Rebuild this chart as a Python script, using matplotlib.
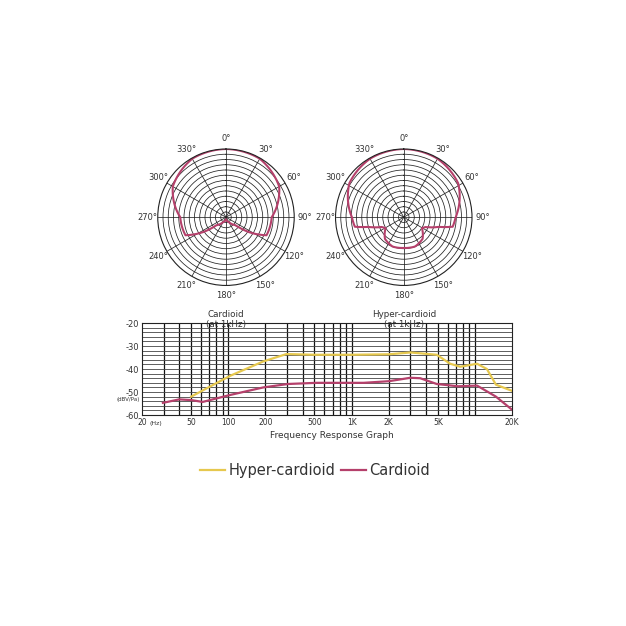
import numpy as np
import matplotlib
matplotlib.use("Agg")
import matplotlib.pyplot as plt

PINK = "#B5406B"
YELLOW = "#E6C84E"

card_ang = [0, 30, 60, 90, 114, 123, 130, 150, 180]
card_r = [1.0, 0.99, 0.9, 0.67, 0.65, 0.40, 0.18, 0.08, 0.03]
hyp_ang = [0, 30, 58, 90, 101, 105.5, 114, 121, 139, 159, 180]
hyp_r = [1.0, 0.99, 0.94, 0.76, 0.73, 0.53, 0.35, 0.31, 0.42, 0.46, 0.45]

freq_y = [50, 103, 192, 296, 500, 1000, 2000, 3000, 4900, 6300, 7600, 10400, 12500, 14800, 20000]
db_y = [-52, -43, -36.7, -33.5, -33.8, -33.8, -33.6, -32.8, -33.8, -37.7, -39, -37.7, -40, -46.8, -49.5]
freq_p = [29.5, 40, 50, 62, 103, 192, 305, 520, 1250, 2000, 3000, 3600, 4900, 7300, 10400, 14800, 20000]
db_p = [-54.7, -53.2, -53.5, -54.3, -51.3, -48, -46.5, -46, -46, -45.3, -43.8, -44, -46.5, -47.5, -47.2, -52, -57.7]

ang_labels = [0, 30, 60, 90, 120, 150, 180, 210, 240, 270, 300, 330]

fig = plt.figure(figsize=(6.26, 6.26), dpi=100)

def mirror(a, r):
    a = np.array(a, float); r = np.array(r, float)
    aa = np.concatenate([a, 360 - a[::-1][1:]])
    rr = np.concatenate([r, r[::-1][1:]])
    return np.deg2rad(aa), rr

def polar(cx, title, ang, rad):
    R = 0.109
    ax = fig.add_axes([cx - R, 0.653 - R, 2 * R, 2 * R], projection="polar")
    ax.set_theta_zero_location("N")
    ax.set_theta_direction(-1)
    ax.set_ylim(0, 1.0)
    ax.set_yticks(np.linspace(0.077, 1.0, 13)[:-1])
    ax.set_yticklabels([])
    ax.set_xticks(np.deg2rad(ang_labels))
    ax.set_xticklabels([f"{a}°" for a in ang_labels], fontsize=6, color="#333")
    ax.tick_params(pad=-3)
    ax.grid(True, color="#222", lw=0.55)
    ax.spines["polar"].set_color("#222")
    t, r = mirror(ang, rad)
    ln, = ax.plot(t, r, color=PINK, lw=1.5)
    ln.get_path()._interpolation_steps = 40
    fig.text(cx, 0.505, title, ha="center", va="top", fontsize=6.3, color="#333", linespacing=1.2)

polar(0.361, "Cardioid\n(at 1kHz)", card_ang, card_r)
polar(0.645, "Hyper-cardioid\n(at 1kHz)", hyp_ang, hyp_r)

ax = fig.add_axes([0.227, 0.337, 0.591, 0.147])
ax.set_xscale("log")
ax.set_xlim(20, 20000)
ax.set_ylim(-60, -20)
vlines = [30, 40, 50, 60, 70, 80, 90] + [k * 10 ** e for e in (2, 3) for k in range(1, 10)] + [10000]
for v in vlines:
    ax.axvline(v, color="#111", lw=0.9)
for h in range(-58, -20, 2):
    ax.axhline(h, color="#444", lw=0.6)
ax.plot(freq_y, db_y, color=YELLOW, lw=1.6)
ax.plot(freq_p, db_p, color=PINK, lw=1.6)
ax.set_xticks([20, 50, 100, 200, 500, 1000, 2000, 5000, 20000])
ax.set_xticklabels(["20", "50", "100", "200", "500", "1K", "2K", "5K", "20K"], fontsize=5.5)
ax.xaxis.set_minor_locator(matplotlib.ticker.NullLocator())
ax.set_yticks([-20, -30, -40, -50, -60])
ax.set_yticklabels(["-20", "-30", "-40", "-50", "-60"], fontsize=6)
ax.tick_params(length=0, pad=2, colors="#333")
for s in ax.spines.values():
    s.set_color("#222")
ax.text(-0.005, 0.2, "(dBV/Pa)", transform=ax.transAxes, ha="right", va="top", fontsize=4, color="#333")
ax.text(0.02, -0.07, "(Hz)", transform=ax.transAxes, ha="left", va="top", fontsize=4.5, color="#333")
fig.text(0.53, 0.305, "Frequency Response Graph", ha="center", va="center", fontsize=6.5, color="#333")

fig.lines.append(plt.Line2D([0.32, 0.36], [0.249, 0.249], color=YELLOW, lw=1.6, transform=fig.transFigure))
fig.text(0.365, 0.249, "Hyper-cardioid", ha="left", va="center", fontsize=10.5, color="#333")
fig.lines.append(plt.Line2D([0.545, 0.585], [0.249, 0.249], color=PINK, lw=1.6, transform=fig.transFigure))
fig.text(0.59, 0.249, "Cardioid", ha="left", va="center", fontsize=10.5, color="#333")

fig.savefig("out.png", dpi=100, facecolor="white")
